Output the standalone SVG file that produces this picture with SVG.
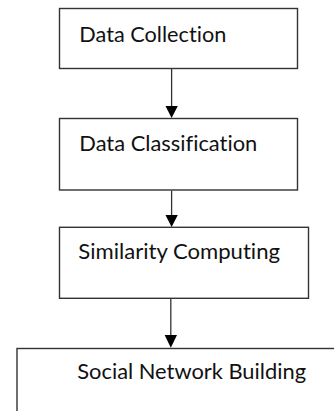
<svg xmlns="http://www.w3.org/2000/svg" width="334" height="411" viewBox="0 0 334 411">
<style>
.box{fill:#fff;stroke:#333;stroke-width:1.4}
.lbl{font-family:Lato,"Liberation Sans",sans-serif;font-size:21.5px;fill:#111;font-variant-ligatures:none}
.con{stroke:#333;stroke-width:1.3;fill:none}
.head{fill:#000}
</style>
<rect width="334" height="411" fill="#fff"/>
<g id="node-data-collection">
<rect class="box" x="59.5" y="8.5" width="238" height="60"/>
<text class="lbl" x="79.3" y="41.7" textLength="147" lengthAdjust="spacingAndGlyphs">Data Collection</text>
</g>
<g id="node-data-classification">
<rect class="box" x="59.5" y="118.5" width="238" height="71.5"/>
<text class="lbl" x="79.3" y="150.7" textLength="178" lengthAdjust="spacingAndGlyphs">Data Classification</text>
</g>
<g id="node-similarity-computing">
<rect class="box" x="59.5" y="227.3" width="249" height="71"/>
<text class="lbl" x="78.3" y="259" textLength="201.7" lengthAdjust="spacingAndGlyphs">Similarity Computing</text>
</g>
<g id="node-social-network-building">
<rect class="box" x="17" y="348.5" width="330" height="80"/>
<text class="lbl" x="77.3" y="379" textLength="228.7" lengthAdjust="spacingAndGlyphs">Social Network Building</text>
</g>
<g id="connectors">
<line class="con" x1="171.6" y1="69" x2="171.6" y2="107"/>
<polygon class="head" points="165.5,106 177.8,106 171.6,118"/>
<line class="con" x1="171.6" y1="190.5" x2="171.6" y2="216"/>
<polygon class="head" points="165.5,215 177.8,215 171.6,227"/>
<line class="con" x1="170.8" y1="298.8" x2="170.8" y2="336"/>
<polygon class="head" points="164.7,335 177,335 170.8,347.8"/>
</g>
</svg>
